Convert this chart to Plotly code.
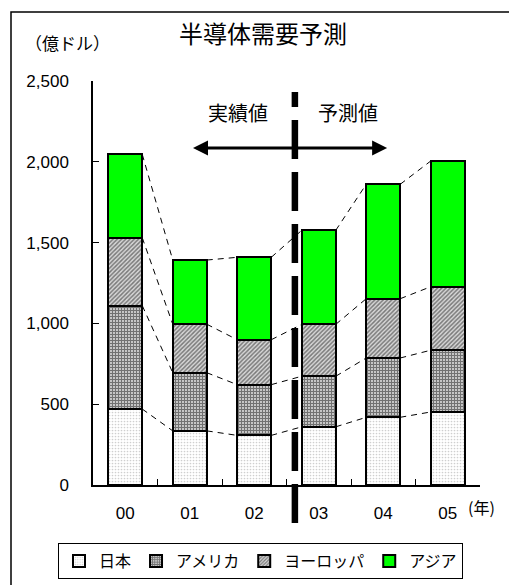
import plotly.graph_objects as go

years = ["00", "01", "02", "03", "04", "05"]
japan = [470, 335, 307, 360, 419, 452]
america = [640, 360, 314, 313, 367, 382]
europe = [420, 300, 278, 321, 367, 393]
asia = [516, 397, 510, 582, 708, 778]

series_names = ["日本", "アメリカ", "ヨーロッパ", "アジア"]
y_ticks = [0, 500, 1000, 1500, 2000, 2500]

FONT = "Liberation Sans, Arial, Noto Sans CJK JP, sans-serif"
JFONT = "Noto Sans CJK JP, Liberation Sans, sans-serif"
BW = 0.527

fig = go.Figure()

styles = [
    dict(color="white", pattern=dict(shape=".", fgcolor="#a0a0a0", bgcolor="white", size=3, solidity=0.25)),
    dict(color="#555", pattern=dict(shape="+", fgcolor="#111111", bgcolor="#d0d0d0", size=3, solidity=0.65)),
    dict(color="#999", pattern=dict(shape="/", fgcolor="#1a1a1a", bgcolor="#d8d8d8", size=3, solidity=0.5)),
    dict(color="#00FF00"),
]
data = [japan, america, europe, asia]
for name, vals, st in zip(series_names, data, styles):
    fig.add_trace(go.Bar(
        x=years, y=vals, name=name, width=BW,
        marker=dict(line=dict(color="black", width=2), **st),
    ))

# connector dashed lines between cumulative segment tops
cum = []
run = [0] * len(years)
for vals in data:
    run = [a + b for a, b in zip(run, vals)]
    cum.append(run)
cx, cy = [], []
for level in cum:
    for i in range(len(years) - 1):
        cx += [i + BW / 2, i + 1 - BW / 2, None]
        cy += [level[i], level[i + 1], None]
fig.add_trace(go.Scatter(
    x=cx, y=cy, xaxis="x2", mode="lines", showlegend=False, hoverinfo="skip",
    line=dict(color="black", width=1, dash="6px,5px"),
))

split_x = 2.63
arrow_y = 2085
fig.add_annotation(x=1.05, y=arrow_y, ax=split_x, ay=arrow_y, xref="x2", yref="y",
                   axref="x2", ayref="y", showarrow=True, arrowhead=2, arrowwidth=3,
                   arrowsize=1, arrowcolor="black", text="")
fig.add_annotation(x=4.06, y=arrow_y, ax=split_x, ay=arrow_y, xref="x2", yref="y",
                   axref="x2", ayref="y", showarrow=True, arrowhead=2, arrowwidth=3,
                   arrowsize=1, arrowcolor="black", text="")

# vertical dashed divider
fig.add_shape(type="line", xref="x2", yref="paper", x0=split_x, x1=split_x,
              y0=-0.094, y1=0.973, line=dict(color="black", width=6.5, dash="39px,13px"))

# outer border
fig.add_shape(type="rect", xref="paper", yref="paper",
              x0=(11 - 93) / 387, x1=(530 - 93) / 387, y0=-0.3, y1=(485 - 12) / 404,
              line=dict(color="black", width=1.5))

def note(text, x, y, size):
    fig.add_annotation(text=text, x=x, y=y, xref="paper", yref="paper", xanchor="center",
                       yanchor="middle", showarrow=False,
                       font=dict(family=JFONT, size=size, color="black"))

note("半導体需要予測", 0.44, 1.12, 24)
note("（億ドル）", -0.065, 1.0965, 17)
note("実績値", 0.375, 0.921, 20)
note("予測値", 0.659, 0.921, 20)
note("(年)", 1.005, -0.055, 16)

fig.update_layout(
    width=509, height=585,
    margin=dict(l=93, r=29, t=81, b=100, autoexpand=False),
    paper_bgcolor="white", plot_bgcolor="white",
    barmode="stack",
    font=dict(family=FONT, size=17, color="black"),
    showlegend=True,
    legend=dict(orientation="h", x=(58 - 93) / 387, xanchor="left",
                y=-0.1436, yanchor="top",
                bordercolor="black", borderwidth=1, font=dict(family=JFONT, size=16),
                traceorder="normal", itemwidth=30, tracegroupgap=0),
    xaxis=dict(type="category", range=[-0.5, 5.5], showline=True, linecolor="black",
               linewidth=1.5, ticks="inside", ticklen=6, tickcolor="black",
               tickson="boundaries", showgrid=False, ticklabelstandoff=12,
               tickfont=dict(size=17)),
    xaxis2=dict(range=[-0.5, 5.5], overlaying="x", visible=False),
    yaxis=dict(range=[0, 2500], tickvals=y_ticks, tickformat=",", showline=True,
               linecolor="black", linewidth=1.5, ticks="inside", ticklen=6,
               tickcolor="black", showgrid=False, zeroline=False,
               ticklabelstandoff=19, tickfont=dict(size=17)),
)

fig.write_html("out.html")
